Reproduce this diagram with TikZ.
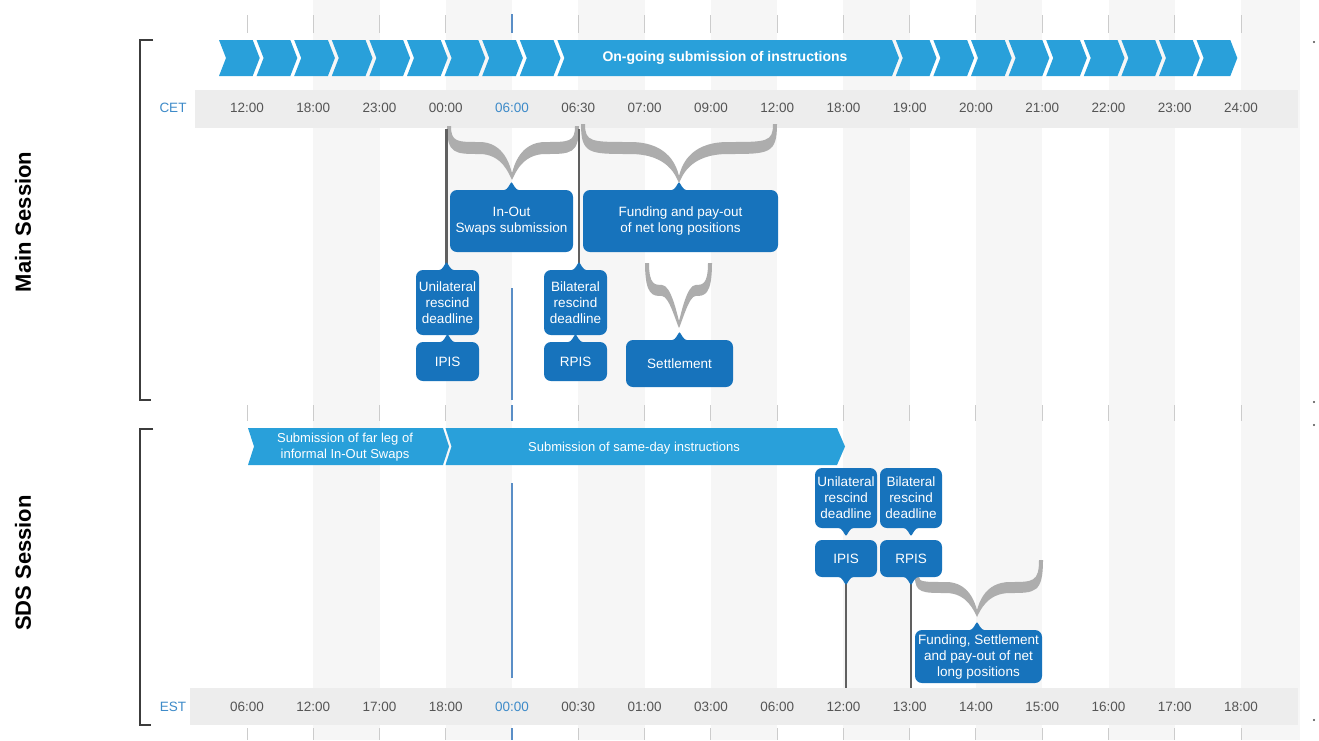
\documentclass[tikz,border=0pt]{standalone}
\usepackage{fontspec}
\setmainfont{Liberation Sans}
\usetikzlibrary{calc}
\definecolor{arrowblue}{HTML}{29A0DA}
\definecolor{boxblue}{HTML}{1773BC}
\definecolor{timegray}{HTML}{555555}
\definecolor{labelblue}{HTML}{3E8BC9}
\definecolor{bracegray}{HTML}{ADADAD}
\definecolor{linegray}{HTML}{606060}
\definecolor{midblue}{HTML}{5A8EC6}
\definecolor{tickgray}{HTML}{CCCCCC}
\definecolor{bandgray}{HTML}{F6F6F6}
\definecolor{rowgray}{HTML}{EDEDED}
\definecolor{bracketgray}{HTML}{3C3C3C}

% x0 x1 xc yendL yendR yh t ytip
\newcommand\gbrace[8]{%
\fill[bracegray] (#1,#4) .. controls (#1,{#6+#7}) and ({#1+8},{#6+#7}) .. ({(#1+#3)/2},{#6+#7})
 .. controls ({#3-10},{#6+#7}) and ({#3-3},{#8-6}) .. (#3,#8)
 .. controls ({#3+3},{#8-6}) and ({#3+10},{#6+#7}) .. ({(#2+#3)/2},{#6+#7})
 .. controls ({#2-8},{#6+#7}) and (#2,{#6+#7}) .. (#2,#5)
 -- ({#2-4},#5)
 .. controls ({#2-4},#6) and ({#2-10},#6) .. ({(#2+#3)/2},#6)
 .. controls ({#3+8},#6) and ({#3+2},{#8-14}) .. (#3,{#8-7})
 .. controls ({#3-2},{#8-14}) and ({#3-8},#6) .. ({(#1+#3)/2},#6)
 .. controls ({#1+10},#6) and ({#1+4},#6) .. ({#1+4},#4) -- cycle;}

\newcommand\ptrup[1]{%
\path #1 coordinate (pp);
\fill[boxblue] ($(pp)+(-8,0.5)$) .. controls ($(pp)+(-3.5,0.5)$) and ($(pp)+(-1.5,-7)$) .. ($(pp)+(0,-7.5)$)
 .. controls ($(pp)+(1.5,-7)$) and ($(pp)+(3.5,0.5)$) .. ($(pp)+(8,0.5)$) -- cycle;}
\newcommand\ptrdown[1]{%
\path #1 coordinate (pp);
\fill[boxblue] ($(pp)+(-8,-0.5)$) .. controls ($(pp)+(-3.5,-0.5)$) and ($(pp)+(-1.5,7)$) .. ($(pp)+(0,7.5)$)
 .. controls ($(pp)+(1.5,7)$) and ($(pp)+(3.5,-0.5)$) .. ($(pp)+(8,-0.5)$) -- cycle;}

\tikzset{
  box/.style={fill=boxblue, text=white, rounded corners=7pt, align=center, inner sep=1pt,
    font=\fontsize{13.5}{16}\selectfont},
  timelbl/.style={font=\fontsize{13.5}{16}\selectfont, inner sep=1pt},
  bartext/.style={text=white, align=center, font=\fontsize{13}{16}\selectfont, inner sep=1pt},
  tick/.style={tickgray, line width=1pt},
  bluetick/.style={midblue, line width=1.6pt},
  darkline/.style={linegray, line width=2.2pt},
  sessionlbl/.style={rotate=90, font=\bfseries\fontsize{22}{26}\selectfont}
}

\begin{document}
\begin{tikzpicture}[x=1pt,y=-1pt]
\useasboundingbox (0,0) rectangle (1319,740);
\fill[white] (0,0) rectangle (1319,740);

% vertical bands
\foreach \i in {1,3,5,7,9,11,13} {
  \fill[bandgray] ({247+66.27*\i},0) rectangle ({247+66.27*(\i+1)},740);
}
\fill[bandgray] ({247+66.27*15},0) rectangle (1300,740);

% row bands
\fill[rowgray] (195,90) rectangle (1298,128);
\fill[rowgray] (190,688) rectangle (1298,725);

% ticks
\foreach \i in {0,...,15} {
  \ifnum\i=4
    \draw[bluetick] ({247+66.27*\i},14) -- ({247+66.27*\i},33);
    \draw[bluetick] ({247+66.27*\i},405) -- ({247+66.27*\i},421);
    \draw[bluetick] ({247+66.27*\i},728) -- ({247+66.27*\i},740);
  \else
    \draw[tick] ({247+66.27*\i},15) -- ({247+66.27*\i},33);
    \draw[tick] ({247+66.27*\i},405) -- ({247+66.27*\i},421);
    \draw[tick] ({247+66.27*\i},728) -- ({247+66.27*\i},740);
  \fi
}

% brackets
\draw[bracketgray, line width=2.2pt] (153,40) -- (140,40) -- (140,400) -- (151,400);
\draw[bracketgray, line width=2.2pt] (153,429) -- (140,429) -- (140,725) -- (151,725);

% session labels
\node[sessionlbl] (mainlbl) at (23,222) {Main Session};
\node[sessionlbl] (sdslbl) at (23,563) {SDS Session};

% top chevrons
\foreach \k in {0,1,2,3,4,5,6,7,8,18,19,20,21,22,23,24,25,26} {
  \fill[arrowblue] ({219+37.6*\k},40) -- ++(33.7,0) -- ++(7,18) -- ++(-7,18) -- ++(-33.7,0) -- ++(7,-18) -- cycle;
}
\fill[arrowblue] (557.4,40) -- (892,40) -- (899,58) -- (892,76) -- (557.4,76) -- (564.4,58) -- cycle;
\node[bartext, font=\bfseries\fontsize{14}{16}\selectfont] (ongoing) at (725,58) {On-going submission of instructions};

% time rows
\node[timelbl, text=labelblue] (cet) at (173,108) {CET};
\foreach \t/\c [count=\i from 0] in {12:00/timegray,18:00/timegray,23:00/timegray,00:00/timegray,06:00/labelblue,06:30/timegray,07:00/timegray,09:00/timegray,12:00/timegray,18:00/timegray,19:00/timegray,20:00/timegray,21:00/timegray,22:00/timegray,23:00/timegray,24:00/timegray} {
  \node[timelbl, text=\c] (cet\i) at ({247+66.27*\i},108) {\t};
}
\node[timelbl, text=labelblue] (est) at (173,707) {EST};
\foreach \t/\c [count=\i from 0] in {06:00/timegray,12:00/timegray,17:00/timegray,18:00/timegray,00:00/labelblue,00:30/timegray,01:00/timegray,03:00/timegray,06:00/timegray,12:00/timegray,13:00/timegray,14:00/timegray,15:00/timegray,16:00/timegray,17:00/timegray,18:00/timegray} {
  \node[timelbl, text=\c] (est\i) at ({247+66.27*\i},707) {\t};
}

% blue 06:00 / 00:00 lines
\coordinate (bl1a) at (512.1,288);
\coordinate (bl1b) at (512.1,400);
\coordinate (bl2a) at (512.1,483);
\coordinate (bl2b) at (512.1,678);
\draw[midblue, line width=2pt] (bl1a) -- (bl1b);
\draw[midblue, line width=2pt] (bl2a) -- (bl2b);

% braces main
\gbrace{447}{579}{512}{126}{126}{142}{12}{180}
\gbrace{581}{777}{679}{124}{124}{142}{12}{183}
\gbrace{645}{712}{679}{263}{263}{285}{11}{328}
% brace SDS
\gbrace{915}{1043}{977}{577}{560}{582}{11}{617}

% boxes main
\node[box, minimum width=123pt, minimum height=62pt] (inout) at (511.5,221) {In-Out\\Swaps submission};
\node[box, minimum width=195pt, minimum height=62pt] (fund) at (680.5,221) {Funding and pay-out\\of net long positions};
\node[box, minimum width=63pt, minimum height=65pt] (uni) at (447.5,302.5) {Unilateral\\rescind\\deadline};
\node[box, minimum width=63pt, minimum height=39pt] (ipis) at (447.5,361.5) {IPIS};
\node[box, minimum width=63pt, minimum height=65pt] (bil) at (575.5,302.5) {Bilateral\\rescind\\deadline};
\node[box, minimum width=63pt, minimum height=39pt] (rpis) at (575.5,361.5) {RPIS};
\node[box, minimum width=107pt, minimum height=47pt] (settle) at (679.5,363.5) {Settlement};

% boxes SDS
\node[box, minimum width=62pt, minimum height=60pt] (uni2) at (846,498) {Unilateral\\rescind\\deadline};
\node[box, minimum width=62pt, minimum height=37pt] (ipis2) at (846,558.5) {IPIS};
\node[box, minimum width=62pt, minimum height=60pt] (bil2) at (911,498) {Bilateral\\rescind\\deadline};
\node[box, minimum width=62pt, minimum height=37pt] (rpis2) at (911,558.5) {RPIS};
\node[box, minimum width=127pt, minimum height=53pt] (fund2) at (978.5,656.5) {Funding, Settlement\\and pay-out of net\\long positions};

% dark vertical lines
\coordinate (c00) at (446.5,129);
\coordinate (c0630) at (579,129);
\coordinate (e12) at (846,688);
\coordinate (e13) at (911,688);
\draw[darkline] (c00) -- (c00 |- uni.north);
\draw[darkline] (c0630) -- (c0630 |- bil.north);
\draw[darkline] ($(ipis2.south)+(0,6)$) -- (e12);
\draw[darkline] ($(rpis2.south)+(0,6)$) -- (e13);

% pointers
\ptrup{(inout.north)}
\ptrup{($(fund.north)+(-1.5,0)$)}
\ptrup{(c00 |- uni.north)}
\ptrup{(ipis.north)}
\ptrup{(c0630 |- bil.north)}
\ptrup{(rpis.north)}
\ptrup{(settle.north)}
\ptrdown{(uni2.south)}
\ptrdown{(ipis2.south)}
\ptrdown{(bil2.south)}
\ptrdown{(rpis2.south)}
\ptrup{($(fund2.north)+(-1.5,0)$)}

% SDS bar
\fill[arrowblue] (248,428) -- (443,428) -- (449,446.5) -- (443,465) -- (248,465) -- (254,446.5) -- cycle;
\fill[arrowblue] (445.5,428) -- (837,428) -- (845,446.5) -- (837,465) -- (445.5,465) -- (451.5,446.5) -- cycle;
\node[bartext] (farleg) at (345,447) {Submission of far leg of\\informal In-Out Swaps};
\node[bartext] (sameday) at (634,448) {Submission of same-day instructions};

% small dots at right
\foreach \yy [count=\j] in {42,402,425,720} {
  \fill[black!70] (1314,\yy) circle (1.1pt) coordinate (dot\j);
}
\end{tikzpicture}
\end{document}
